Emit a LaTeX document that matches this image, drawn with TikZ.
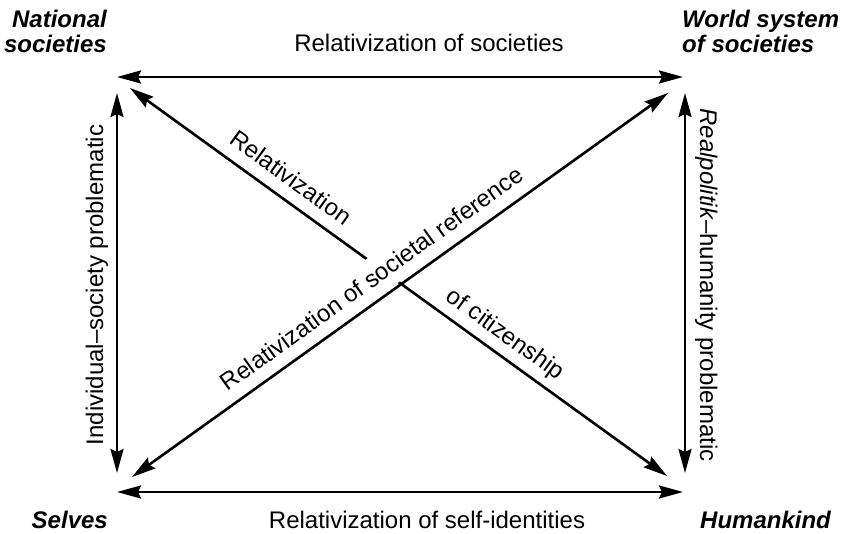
\documentclass[tikz,border=0pt]{standalone}
\usepackage{fontspec}
\setmainfont{Liberation Sans}
\usetikzlibrary{arrows.meta}
\begin{document}
\begin{tikzpicture}[x=1pt,y=-1pt,
  conn/.style={line width=2.6pt, {Stealth[length=24pt,width=13pt,inset=3pt]}-{Stealth[length=24pt,width=13pt,inset=3pt]}},
  lbl/.style={font=\fontsize{24}{25}\selectfont, inner sep=0pt},
  corner/.style={font=\fontsize{24}{25}\selectfont\bfseries\itshape, inner sep=0pt},
]
\useasboundingbox (0,0) rectangle (845,534);
% arrow end points
\coordinate (htl) at (117,77);  \coordinate (htr) at (683,77);
\coordinate (hbl) at (117,492); \coordinate (hbr) at (683,492);
\coordinate (vlt) at (117,93);  \coordinate (vlb) at (117,473);
\coordinate (vrt) at (685,93);  \coordinate (vrb) at (685,473);
\coordinate (dnw) at (130,88);  \coordinate (dse) at (667,476);
\coordinate (dsw) at (132,477); \coordinate (dne) at (668,93);

% corner labels
\node[corner, align=right, anchor=north east] (nat) at (107,9.8) {National\\societies};
\node[corner, align=left, anchor=north west] (world) at (682,9.8) {World system\\of societies};
\node[corner, anchor=base east] (selves) at (108,528) {Selves};
\node[corner, anchor=base west] (human) at (700,528) {Humankind};

% side connectors
\draw[conn] (htl) -- (htr);
\draw[conn] (hbl) -- (hbr);
\draw[conn] (vlt) -- (vlb);
\draw[conn] (vrt) -- (vrb);
\node[lbl, anchor=base] (ltop) at (429,52) {Relativization of societies};
\node[lbl, anchor=base] (lbot) at (427,528) {Relativization of self-identities};
\node[lbl, anchor=base, rotate=90] (lleft) at (103,285) {Individual\textendash society problematic};
\node[lbl, anchor=base, rotate=-90] (lright) at (700,285) {\textit{Realpolitik}\textendash humanity problematic};

% diagonal NW-SE
\draw[conn] (dnw) -- (dse);
\node[lbl, anchor=base, rotate=-35.85] (lrel) at (286,184.5) {Relativization};
\node[lbl, anchor=base, rotate=-35.85] (lcit) at (501,340) {of citizenship};

% diagonal SW-NE label with white background interrupting the other diagonal
\node[lbl, anchor=base, rotate=35.62, fill=white, inner xsep=2pt, inner ysep=10pt] (lsoc) at (376.5,285.5) {Relativization of societal reference};
\draw[conn] (dsw) -- (dne);
\end{tikzpicture}
\end{document}
